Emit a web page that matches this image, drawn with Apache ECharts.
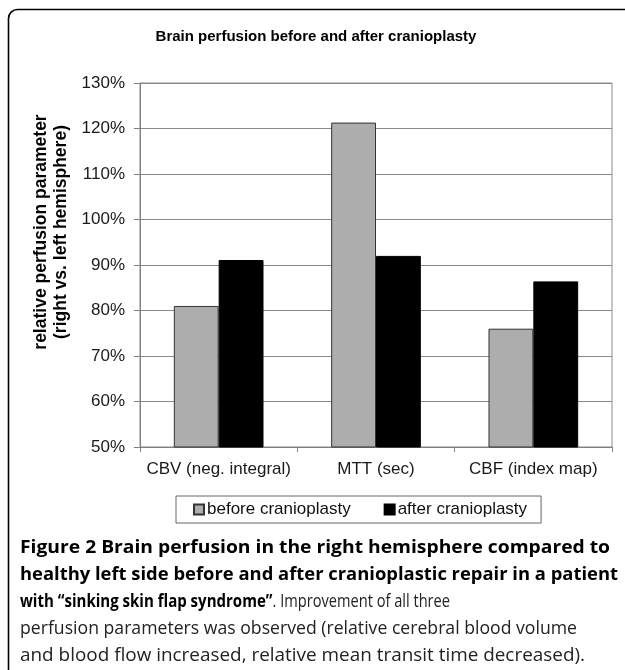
<!DOCTYPE html>
<html>
<head>
<meta charset="utf-8">
<script src="https://cdn.jsdelivr.net/npm/echarts@6/dist/echarts.min.js"></script>
<style>
html,body{margin:0;padding:0;background:#fff;}
#chart{width:625px;height:670px;}
</style>
</head>
<body>
<div id="chart"></div>
<script>
const categories = ['CBV (neg. integral)', 'MTT (sec)', 'CBF (index map)'];
const seriesNames = ['before cranioplasty', 'after cranioplasty'];
const beforeValues = [81, 121.3, 76];
const afterValues = [91.1, 92, 86.4];
const yTicks = { min: 50, max: 130, interval: 10 };
const chartTitle = 'Brain perfusion before and after cranioplasty';
const yAxisLines = ['relative perfusion parameter', '(right vs. left hemisphere)'];
const captionSegments = [
  [['Figure 2 Brain perfusion in the right hemisphere compared to', 'b']],
  [['healthy left side before and after cranioplastic repair in a patient', 'b']],
  [['with \u201csinking skin flap syndrome\u201d', 'b'], ['. Improvement of all three', 'n']],
  [['perfusion parameters was observed (relative cerebral blood volume', 'n']],
  [['and blood flow increased, relative mean transit time decreased).', 'n']]
];

const FONT = '"Liberation Sans", Arial, sans-serif';
const CAP = '"Open Sans", "Noto Sans", sans-serif';
const capFonts = { b: 'bold 18px ' + CAP, n: 'normal 17.5px ' + CAP };
const captionY = [548, 575, 602, 629, 656];
const captionRight = [610, 618, 450, 577, 585];

const chart = echarts.init(document.getElementById('chart'), null, { renderer: 'canvas' });

const mctx = document.createElement('canvas').getContext('2d');
function textW(font, t) { mctx.font = font; return mctx.measureText(t).width; }

const captionRich = {
  b: { fontFamily: CAP, fontWeight: 'bold', fontSize: 18, fill: '#000' },
  n: { fontFamily: CAP, fontWeight: 'normal', fontSize: 17.5, fill: '#222' }
};

const graphics = [
  {
    type: 'rect', shape: { x: 8.5, y: 9.5, width: 700, height: 700, r: 9 },
    style: { fill: 'none', stroke: '#000', lineWidth: 1.6 }, silent: true
  },
  {
    type: 'text', x: 41, y: 232, rotation: Math.PI / 2,
    style: { text: yAxisLines[0], font: 'bold 17.5px ' + FONT, fill: '#000', textAlign: 'center', textVerticalAlign: 'middle' }
  },
  {
    type: 'text', x: 61, y: 232, rotation: Math.PI / 2,
    style: { text: yAxisLines[1], font: 'bold 17.5px ' + FONT, fill: '#000', textAlign: 'center', textVerticalAlign: 'middle' }
  }
];
captionSegments.forEach((segs, i) => {
  let w = 0;
  segs.forEach(s => { w += textW(capFonts[s[1]], s[0]); });
  const sx = (captionRight[i] - 20) / w;
  const txt = segs.map(s => '{' + s[1] + '|' + s[0] + '}').join('');
  graphics.push({
    type: 'text', x: 20, y: captionY[i], scaleX: sx, scaleY: 1,
    style: { text: txt, rich: captionRich, textAlign: 'left', textVerticalAlign: 'middle' }
  });
});

const option = {
  backgroundColor: '#fff',
  animation: false,
  title: {
    text: chartTitle, left: 311, top: 24, textAlign: 'center',
    textStyle: { fontFamily: FONT, fontWeight: 'bold', fontSize: 15, color: '#000' }
  },
  grid: {
    left: 140, right: 13, top: 83, bottom: 223,
    show: true, borderColor: '#8a8a8a', borderWidth: 1, backgroundColor: 'transparent'
  },
  legend: {
    left: 176, top: 496,
    padding: [5, 14, 5, 17],
    itemGap: 33, itemWidth: 10, itemHeight: 10, icon: 'rect',
    borderColor: '#666', borderWidth: 1,
    textStyle: { fontFamily: FONT, fontSize: 17, color: '#111', padding: [0, 0, 0, -2] },
    data: seriesNames
  },
  xAxis: {
    type: 'category', data: categories, boundaryGap: true,
    axisLine: { lineStyle: { color: '#808080', width: 1 } },
    axisTick: { show: true, length: 5, lineStyle: { color: '#808080' } },
    axisLabel: { fontFamily: FONT, fontSize: 17, color: '#1a1a1a', margin: 14, interval: 0 }
  },
  yAxis: {
    type: 'value', min: yTicks.min, max: yTicks.max, interval: yTicks.interval,
    axisLine: { show: true, lineStyle: { color: '#808080', width: 1 } },
    axisTick: { show: true, length: 6, lineStyle: { color: '#808080' } },
    axisLabel: { fontFamily: FONT, fontSize: 17, color: '#1a1a1a', margin: 15, formatter: '{value}%' },
    splitLine: { show: true, lineStyle: { color: '#8a8a8a', width: 1 } }
  },
  series: [
    {
      name: seriesNames[0], type: 'bar', data: beforeValues,
      barGap: '0%', barCategoryGap: '43%',
      itemStyle: { color: '#adadad', borderColor: '#333', borderWidth: 1 }
    },
    {
      name: seriesNames[1], type: 'bar', data: afterValues,
      barGap: '0%', barCategoryGap: '43%',
      itemStyle: { color: '#000', borderColor: '#000', borderWidth: 1 }
    }
  ],
  graphic: graphics
};
chart.setOption(option);
</script>
</body>
</html>
